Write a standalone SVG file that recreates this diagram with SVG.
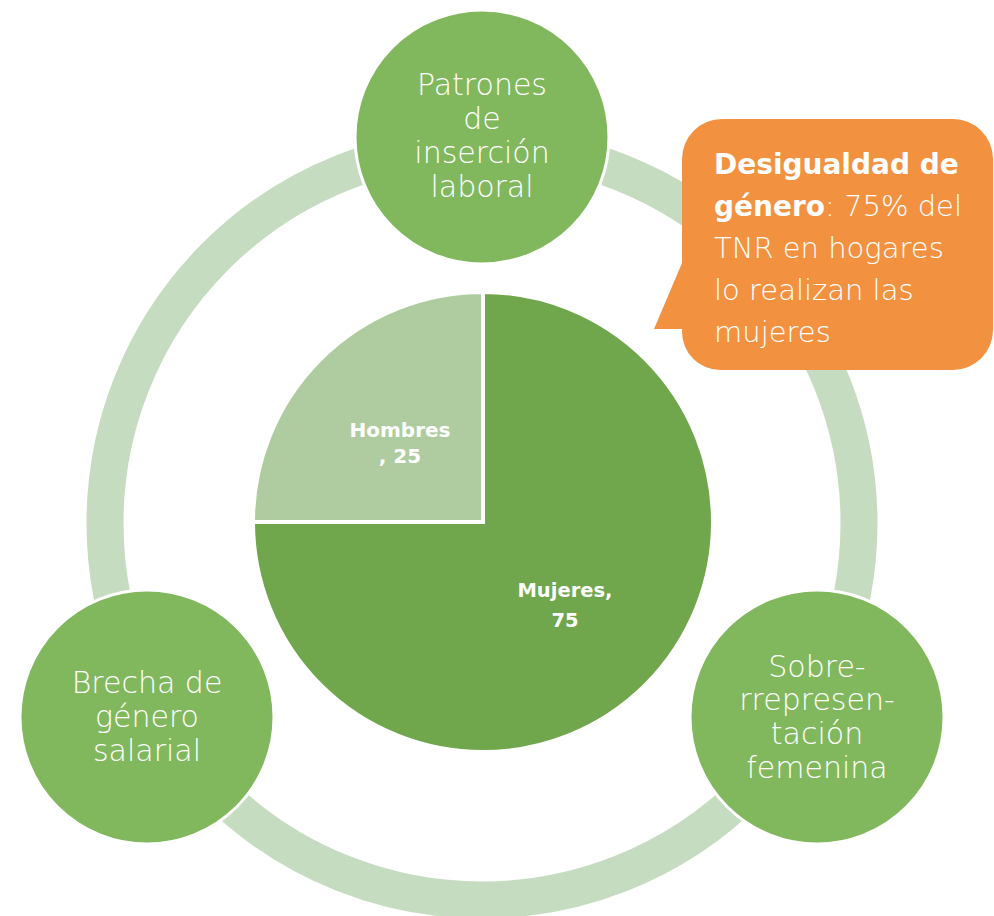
<svg xmlns="http://www.w3.org/2000/svg" width="994" height="916" viewBox="0 0 994 916">
<style>
.ring{fill:none;stroke:#c6dcc1;stroke-width:37}
.node{fill:#81b85d;stroke:#ffffff;stroke-width:3}
.nt{font-family:"DejaVu Sans","Liberation Sans",sans-serif;font-size:30px;font-weight:300;fill:#ffffff;text-anchor:middle}
.pl{font-family:"DejaVu Sans","Liberation Sans",sans-serif;font-weight:bold;fill:#ffffff;text-anchor:middle}
.ct{font-family:"DejaVu Sans","Liberation Sans",sans-serif;font-size:29px;font-weight:300;fill:#ffffff}
</style>
<rect width="994" height="916" fill="#ffffff"/>
<g id="connectors">
<circle class="ring" cx="482" cy="523" r="377"/>
</g>
<g id="pie">
<path d="M483,522 L483,292 A230,230 0 1 1 253,522 Z" fill="#70a64c" stroke="#ffffff" stroke-width="4"/>
<path d="M483,522 L253,522 A230,230 0 0 1 483,292 Z" fill="#afcca0" stroke="#ffffff" stroke-width="4"/>
<text class="pl" font-size="20" x="400" y="437">Hombres</text>
<text class="pl" font-size="20" x="400" y="463">, 25</text>
<text class="pl" font-size="19.5" x="565" y="597">Mujeres,</text>
<text class="pl" font-size="19.5" x="565" y="627">75</text>
</g>
<g id="node-patrones">
<circle class="node" cx="482" cy="137" r="127"/>
<text class="nt" x="482" y="95">Patrones</text>
<text class="nt" x="482" y="129">de</text>
<text class="nt" x="482" y="163">inserción</text>
<text class="nt" x="482" y="197">laboral</text>
</g>
<g id="node-brecha">
<circle class="node" cx="147" cy="717" r="127"/>
<text class="nt" x="147" y="693">Brecha de</text>
<text class="nt" x="147" y="727">género</text>
<text class="nt" x="147" y="761">salarial</text>
</g>
<g id="node-sobre">
<circle class="node" cx="817" cy="717" r="127"/>
<text class="nt" x="817" y="677">Sobre-</text>
<text class="nt" x="817" y="710">rrepresen-</text>
<text class="nt" x="817" y="744">tación</text>
<text class="nt" x="817" y="778">femenina</text>
</g>
<g id="callout">
<path d="M722,119 H953 A40,40 0 0 1 993,159 V330 A40,40 0 0 1 953,370 H720 A38,38 0 0 1 682,332 V329 L654,329 L682,263 V159 A40,40 0 0 1 722,119 Z" fill="#f29241"/>
<text class="ct" x="714" y="174"><tspan font-weight="bold" font-size="28">Desigualdad de</tspan></text>
<text class="ct" x="714" y="216"><tspan font-weight="bold" font-size="28">género</tspan>: 75% del</text>
<text class="ct" x="714" y="258">TNR en hogares</text>
<text class="ct" x="714" y="300">lo realizan las</text>
<text class="ct" x="714" y="342">mujeres</text>
</g>
</svg>
